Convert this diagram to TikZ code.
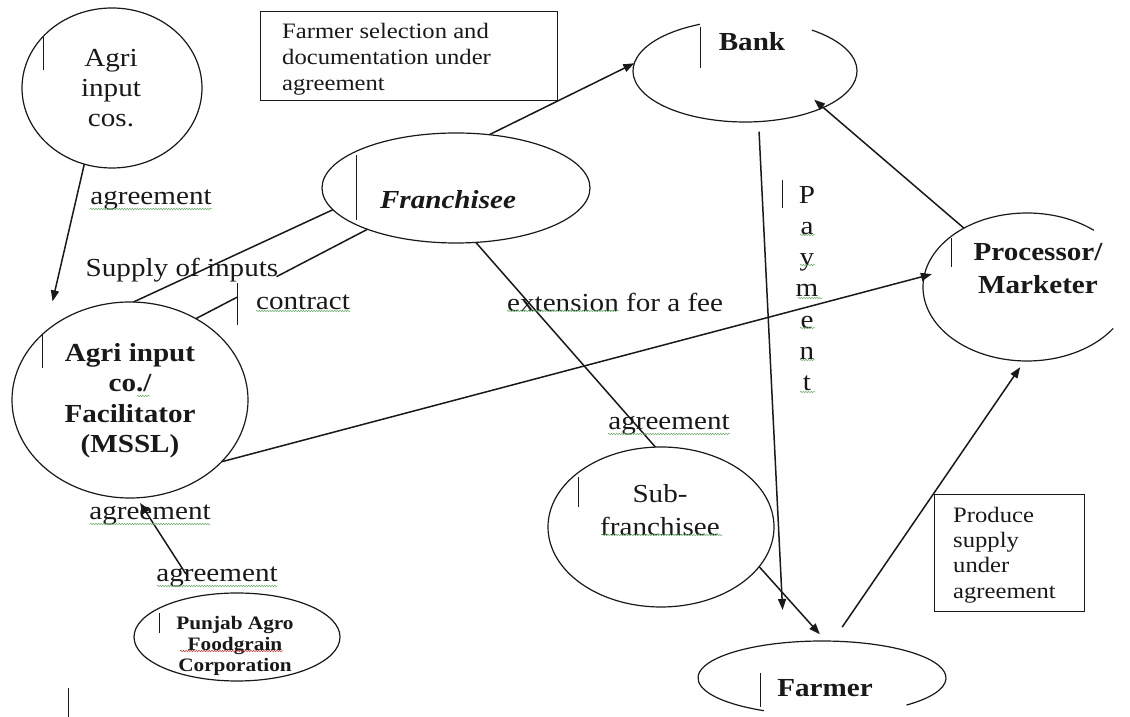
\documentclass[tikz,border=0pt]{standalone}
\usepackage{fontspec}
\setmainfont{Liberation Serif}[FakeStretch=1.12]
\usetikzlibrary{shapes.geometric,arrows.meta,calc,decorations.pathmorphing}
\newcommand\szmain{\fontsize{26}{30.5}\selectfont}
\newcommand\szbox{\fontsize{22}{26}\selectfont}
\newcommand\szsmall{\fontsize{19}{21}\selectfont}
\definecolor{sqgreen}{RGB}{110,175,110}
\definecolor{sqred}{RGB}{205,60,60}
\definecolor{ink}{RGB}{25,25,25}
\begin{document}
\begin{tikzpicture}[x=1pt,y=1pt, color=ink,
  ell/.style={ellipse, draw, line width=1.2pt, inner sep=0pt, outer sep=0pt},
  shp/.style={ellipse, inner sep=0pt, outer sep=0pt},
  elw/.style={line width=1.2pt},
  edge/.style={line width=1.5pt},
  arr/.style={edge, -{Triangle[length=11pt,width=8pt]}},
  txt/.style={inner sep=0pt, font=\szmain},
  cur/.style={line width=1pt},
  sq/.style={draw=sqgreen, line width=0.5pt, decorate, decoration={snake, amplitude=0.8pt, segment length=2.6pt}},
  sqr/.style={sq, draw=sqred},
  boxst/.style={draw, line width=1.2pt, inner sep=0pt, anchor=south west}]
\useasboundingbox (0,0) rectangle (1130,717);
\fill[white] (0,0) rectangle (1130,717);

% ellipses
\node[ell, minimum width=180pt, minimum height=160pt] (cos) at (112,629) {};
\node[ell, minimum width=236pt, minimum height=196pt] (mssl) at (130,317) {};
\node[ell, minimum width=206pt, minimum height=88pt] (punjab) at (237,80) {};
\node[ell, minimum width=268pt, minimum height=110pt] (fran) at (456,529) {};
\node[shp, minimum width=224pt, minimum height=102pt] (bank) at (745,646) {};
\node[ell, minimum width=226pt, minimum height=160pt] (sub) at (661,190) {};
\node[shp, minimum width=248pt, minimum height=74pt] (farmer) at (822,39) {};
\node[shp, minimum width=208pt, minimum height=148pt] (proc) at (1027,430) {};

\draw[elw] ([shift={(113.7:112pt and 51pt)}]bank.center) arc[start angle=113.7, end angle=413.3, x radius=112pt, y radius=51pt];
\draw[elw] ([shift={(-47:124pt and 37pt)}]farmer.center) arc[start angle=-47, end angle=242, x radius=124pt, y radius=37pt];
\draw[elw] ([shift={(50:104pt and 74pt)}]proc.center) arc[start angle=50, end angle=326, x radius=104pt, y radius=74pt];

% boxes
\node[boxst, minimum width=297pt, minimum height=89pt] (box1) at (260,616) {};
\node[txt, align=left, anchor=west, font=\szbox] (box1T) at (282,658) {Farmer selection and\\documentation under\\agreement};
\node[boxst, minimum width=150pt, minimum height=117pt] (box2) at (934,105) {};
\node[txt, align=left, anchor=west, font=\fontsize{22}{25.3}\selectfont] (box2T) at (953,162) {Produce\\supply\\under\\agreement};

% texts in shapes
\node[txt, align=center, font=\fontsize{26}{30}\selectfont] (cosT) at (111,629) {Agri\\input\\cos.};
\node[txt, align=center, font=\szmain\bfseries] (msslT) at (130,316) {Agri input\\co./\\Facilitator\\(MSSL)};
\node[txt, font=\szmain\bfseries\itshape] (franT) at (448,517) {Franchisee};
\node[txt, font=\szmain\bfseries] (bankT) at (752,675) {Bank};
\node[txt, align=center, font=\fontsize{26}{33}\selectfont\bfseries] (procT) at (1038,448.5) {Processor/\\Marketer};
\node[txt, align=center, font=\fontsize{26}{33}\selectfont] (subT) at (660,207) {Sub-\\franchisee};
\node[txt, font=\szmain\bfseries] (farmerT) at (825,29) {Farmer};
\node[txt, align=center, font=\szsmall\bfseries] (punjabT) at (235,71) {Punjab Agro\\Foodgrain\\Corporation};
\node[txt, align=center, font=\fontsize{26}{31.2}\selectfont] (payT) at (807,428.5) {P\\a\\y\\m\\e\\n\\t};

% labels
\node[txt] (l1) at (151,517) {agreement};
\node[txt] (l2) at (182,447) {Supply of inputs};
\node[txt] (l3) at (303,415) {contract};
\node[txt, anchor=west] (l4) at (507,415) {extension for a fee};
\node[txt] (l5) at (669,292) {agreement};
\node[txt] (l6) at (150,202) {agreement};
\node[txt] (l7) at (217,140) {agreement};

% connectors
\draw[arr, shorten >=31pt] (cos.250) -- (mssl.141);
\draw[edge] (mssl.88) -- (fran.190);
\draw[edge] (mssl.51) -- ($(mssl.51)!0.24!(fran.205)$);
\draw[edge] ($(mssl.51)!0.47!(fran.205)$) -- (fran.205);
\draw[arr] (fran.58) -- (bank.176);
\draw[edge] (fran.290) -- (sub.94);
\draw[arr, shorten >=9pt] (sub.338) -- (farmer.84);
\draw[arr, shorten <=10pt, shorten >=32.8pt] (bank.285) -- (farmer.137.5);
\draw[arr, shorten >=-8pt] (mssl.326) -- (proc.174);
\draw[arr, shorten <=17pt, shorten >=7.5pt] (farmer.74) -- (proc.268);
\draw[arr, shorten >=-12pt] (proc.137) -- (bank.335);
\draw[arr, shorten <=26pt, shorten >=6pt] (punjab.132) -- (mssl.274);

% cursor marks
\draw[cur] (43,680) -- (43,647);
\draw[cur] (700,690) -- (700,649);
\draw[cur] (356,562) -- (356,497);
\draw[cur] (42,382) -- (42,349);
\draw[cur] (237,434) -- (237,392);
\draw[cur] (782,537) -- (782,509);
\draw[cur] (951,479) -- (951,450);
\draw[cur] (578,240) -- (578,210);
\draw[cur] (760,44) -- (760,10);
\draw[cur] (159,104) -- (159,84);
\draw[cur] (68,29) -- (68,0);

% spelling squiggles
\draw[sq] (90,508) -- (212,508);
\draw[sq] (256,406) -- (350,406);
\draw[sq] (507,406) -- (618,406);
\draw[sq] (608,283) -- (730,283);
\draw[sq] (90,193) -- (210,193);
\draw[sq] (157,131) -- (277,131);
\draw[sq] (602,182) -- (722,182);
\draw[sq] (137,321) -- (150,321);
\draw[sqr] (180,66) -- (283,66);
\draw[sq] (800,482) -- (815,482);
\draw[sq] (800,452) -- (815,452);
\draw[sq] (798,419) -- (822,419);
\draw[sq] (800,389) -- (815,389);
\draw[sq] (800,357) -- (815,357);
\draw[sq] (800,325) -- (815,325);
\end{tikzpicture}
\end{document}
